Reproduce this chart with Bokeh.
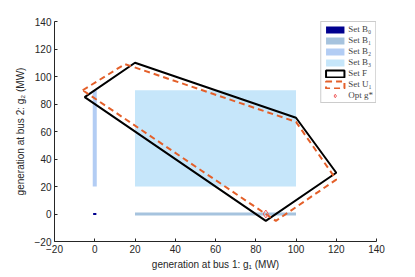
from bokeh.plotting import figure
from bokeh.models import Legend, LegendItem, FixedTicker, Range1d
from bokeh.embed import file_html
from bokeh.resources import INLINE

# ---- data ----
ticks = [-20, 0, 20, 40, 60, 80, 100, 120, 140]

# Set B0 (point at origin), B1 (horizontal segment), B2 (vertical segment), B3 (box)
b0_x = [0, 0]; b0_y = [0, 0]
b1_x = [20, 100]; b1_y = [0, 0]
b2_x = [0, 0]; b2_y = [20, 90]
b3_x = [20, 100]; b3_y = [20, 90]

# Set F polygon
f_x = [-5, 20, 100, 120, 85, -5]
f_y = [85, 110, 70, 30, -5, 85]

# Set U1 polygon
u_x = [-6, 15, 100, 120, 90, -6]
u_y = [90, 109, 67, 25, -5, 90]

# Optimal point
opt_x = [85]; opt_y = [0]

labels = ["Set B\u2080", "Set B\u2081", "Set B\u2082", "Set B\u2083", "Set F", "Set U\u2081", "Opt g*"]

p = figure(width=410, height=272, output_backend="svg", toolbar_location=None,
           x_range=Range1d(-20, 140), y_range=Range1d(-20, 140),
           min_border_left=54, min_border_right=34, min_border_top=21, min_border_bottom=29)

p.xgrid.visible = False
p.ygrid.visible = False
p.outline_line_color = None
p.background_fill_color = "white"

r_b3 = p.quad(left=[b3_x[0]], right=[b3_x[1]], bottom=[b3_y[0]], top=[b3_y[1]],
              fill_color="#c6e6fa", line_color=None)
r_b2 = p.quad(left=[b2_x[0] - 1.0], right=[b2_x[1] + 1.0], bottom=[b2_y[0]], top=[b2_y[1]],
              fill_color="#b3cdf4", line_color=None)
r_b1 = p.quad(left=[b1_x[0]], right=[b1_x[1]], bottom=[b1_y[0] - 1.1], top=[b1_y[1] + 1.1],
              fill_color="#a6c3de", line_color=None)
r_b0 = p.quad(left=[b0_x[0] - 0.8], right=[b0_x[1] + 0.8], bottom=[b0_y[0] - 0.7],
              top=[b0_y[1] + 0.7], fill_color="#00008f", line_color=None)

r_f = p.patch(f_x, f_y, fill_alpha=0, line_color="black", line_width=2)
r_u = p.patch(u_x, u_y, fill_alpha=0, line_color="#E4602A", line_width=2, line_dash="6 4")
r_opt = p.scatter(opt_x, opt_y, marker="diamond", size=8, fill_color=None,
                  line_color="#F06060", line_width=1)

for ax in (p.xaxis[0], p.yaxis[0]):
    ax.ticker = FixedTicker(ticks=ticks)
    ax.major_tick_in = 3
    ax.major_tick_out = 0
    ax.minor_tick_in = 0
    ax.minor_tick_out = 0
    ax.axis_line_color = "#262626"
    ax.major_tick_line_color = "#262626"
    ax.major_label_text_color = "#262626"
    ax.major_label_text_font = "Liberation Sans"
    ax.major_label_text_font_size = "10px"
    ax.axis_label_text_font = "Liberation Sans"
    ax.axis_label_text_font_size = "10px"
    ax.axis_label_text_font_style = "normal"
    ax.axis_label_text_color = "#262626"
    ax.major_label_standoff = 3

p.xaxis[0].axis_label_standoff = 3
p.yaxis[0].axis_label_standoff = 6
p.xaxis[0].axis_label = "generation at bus 1: g\u2081 (MW)"
p.yaxis[0].axis_label = "generation at bus 2: g\u2082 (MW)"

items = [LegendItem(label=l, renderers=[r]) for l, r in
         zip(labels, [r_b0, r_b1, r_b2, r_b3, r_f, r_u, r_opt])]
leg = Legend(items=items, location="top_right", margin=0, padding=2, spacing=1,
             glyph_width=23, glyph_height=9, label_height=9, label_standoff=2,
             label_text_font="Liberation Serif", label_text_font_size="9px",
             border_line_color="#9a9a9a", border_line_width=1,
             background_fill_color="white", background_fill_alpha=1)
p.add_layout(leg)

open("out.html", "w").write(file_html(p, INLINE))
